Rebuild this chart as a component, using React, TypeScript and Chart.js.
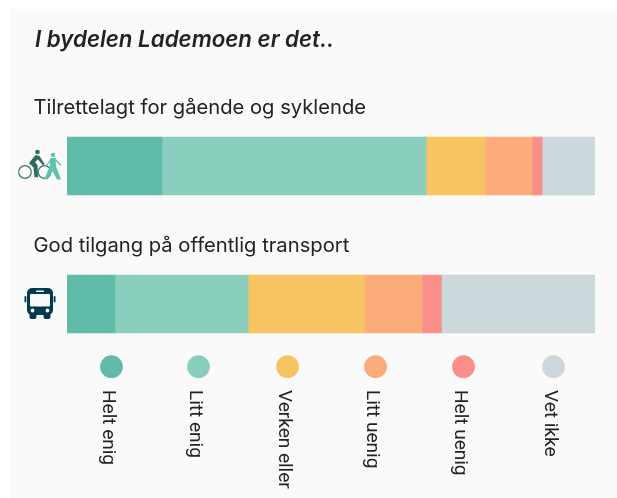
import { useEffect, useRef } from "react";
import Chart from "chart.js/auto";

const title = "I bydelen Lademoen er det..";
const categories = ["Tilrettelagt for gående og syklende", "God tilgang på offentlig transport"];
const seriesNames = ["Helt enig", "Litt enig", "Verken eller", "Litt uenig", "Helt uenig", "Vet ikke"];
const heltEnig = [18, 9.1];
const littEnig = [50, 25.2];
const verkenEller = [11.2, 22];
const littUenig = [8.9, 11];
const heltUenig = [1.9, 3.6];
const vetIkke = [10, 29.1];
const colors = ["#60BCA9", "#8ACEBE", "#F8C461", "#FCAB7B", "#F98E8A", "#CDD8DD"];
const legendX = [111.5, 198.5, 287.5, 375.5, 463.5, 553.5];

const seriesValues = [heltEnig, littEnig, verkenEller, littUenig, heltUenig, vetIkke];
const headingFont = "Inter, sans-serif";
const legendFont = "Roboto, sans-serif";

function drawCyclePair(ctx: CanvasRenderingContext2D, cy: number) {
  const y = cy - 166;
  ctx.save();
  ctx.translate(0, y);
  ctx.lineCap = "round";
  ctx.lineJoin = "round";
  ctx.strokeStyle = "#3A7569";
  ctx.fillStyle = "#2F6A5E";
  ctx.lineWidth = 1.2;
  ctx.beginPath();
  ctx.arc(25, 172, 6.3, 0, Math.PI * 2);
  ctx.moveTo(50.5, 172);
  ctx.arc(44.5, 172, 6.3, 0, Math.PI * 2);
  ctx.stroke();
  ctx.beginPath();
  ctx.arc(37.5, 152, 2.3, 0, Math.PI * 2);
  ctx.fill();
  ctx.beginPath();
  ctx.moveTo(35.5, 155);
  ctx.lineTo(29, 163);
  ctx.lineTo(33.5, 167.5);
  ctx.lineTo(34.5, 177);
  ctx.lineTo(38, 177.5);
  ctx.lineTo(37.5, 165);
  ctx.lineTo(35, 162);
  ctx.lineTo(38, 159.5);
  ctx.lineTo(43, 165.5);
  ctx.lineTo(44.5, 164);
  ctx.lineTo(39.5, 156);
  ctx.closePath();
  ctx.fill();
  ctx.fillStyle = "#5FC0AC";
  ctx.strokeStyle = "#5FC0AC";
  ctx.beginPath();
  ctx.arc(53, 155, 2.2, 0, Math.PI * 2);
  ctx.fill();
  ctx.beginPath();
  ctx.moveTo(50.5, 158);
  ctx.lineTo(55.5, 158);
  ctx.lineTo(56, 166);
  ctx.lineTo(61, 179.5);
  ctx.lineTo(57, 179.5);
  ctx.lineTo(52.5, 171);
  ctx.lineTo(47.5, 179.5);
  ctx.lineTo(44.5, 178.5);
  ctx.lineTo(49.5, 167);
  ctx.closePath();
  ctx.fill();
  ctx.lineWidth = 1.3;
  ctx.beginPath();
  ctx.moveTo(55, 159);
  ctx.lineTo(60.5, 165);
  ctx.moveTo(51, 159);
  ctx.lineTo(47, 165);
  ctx.stroke();
  ctx.restore();
}

function drawBus(ctx: CanvasRenderingContext2D, cy: number) {
  const y = cy - 304;
  ctx.save();
  ctx.translate(0, y);
  ctx.fillStyle = "#003B4D";
  ctx.beginPath();
  ctx.roundRect(27, 288, 26, 27, 5);
  ctx.fill();
  ctx.beginPath();
  ctx.roundRect(29.5, 312, 7, 7, 2);
  ctx.fill();
  ctx.beginPath();
  ctx.roundRect(43.5, 312, 7, 7, 2);
  ctx.fill();
  ctx.beginPath();
  ctx.roundRect(24.5, 296, 1.8, 6.5, 0.9);
  ctx.fill();
  ctx.beginPath();
  ctx.roundRect(53.7, 296, 1.8, 6.5, 0.9);
  ctx.fill();
  ctx.fillStyle = "#FAFAFA";
  ctx.beginPath();
  ctx.roundRect(30, 294, 20, 12.5, 1);
  ctx.fill();
  ctx.beginPath();
  ctx.roundRect(36, 290.5, 8, 1.6, 0.7);
  ctx.fill();
  ctx.beginPath();
  ctx.arc(32.5, 310.5, 1.9, 0, Math.PI * 2);
  ctx.fill();
  ctx.beginPath();
  ctx.arc(47.5, 310.5, 1.9, 0, Math.PI * 2);
  ctx.fill();
  ctx.restore();
}

const overlay = {
  id: "overlay",
  beforeDraw(chart: Chart) {
    const ctx = chart.ctx;
    ctx.save();
    ctx.fillStyle = "#FAFAFA";
    ctx.fillRect(9, 9, 608, 489);
    ctx.restore();
  },
  afterDraw(chart: Chart) {
    const ctx = chart.ctx;
    const yScale = chart.scales.y;
    ctx.save();
    ctx.textBaseline = "alphabetic";
    ctx.textAlign = "left";
    ctx.fillStyle = "#222222";
    ctx.font = `italic 600 22.3px ${headingFont}`;
    ctx.fillText(title, 35, 47);
    ctx.font = `400 20.2px ${headingFont}`;
    categories.forEach((c, i) => {
      ctx.fillText(c, 33.5, yScale.getPixelForValue(i) - 52);
    });
    drawCyclePair(ctx, yScale.getPixelForValue(0));
    drawBus(ctx, yScale.getPixelForValue(1));
    seriesNames.forEach((name, i) => {
      ctx.fillStyle = colors[i];
      ctx.beginPath();
      ctx.arc(legendX[i], 366.7, 11.4, 0, Math.PI * 2);
      ctx.fill();
      ctx.save();
      ctx.translate(legendX[i], 390);
      ctx.rotate(Math.PI / 2);
      ctx.fillStyle = "#222222";
      ctx.font = `400 19px ${legendFont}`;
      ctx.textAlign = "left";
      ctx.textBaseline = "alphabetic";
      ctx.fillText(name, 0, 8.5);
      ctx.restore();
    });
    ctx.restore();
  },
};

export default function App() {
  const ref = useRef<HTMLCanvasElement>(null);
  useEffect(() => {
    const chart = new Chart(ref.current!, {
      type: "bar",
      data: {
        labels: categories,
        datasets: seriesNames.map((name, i) => ({
          label: name,
          data: seriesValues[i],
          backgroundColor: colors[i],
          borderWidth: 0,
          barThickness: 58,
          stack: "s",
        })),
      },
      options: {
        indexAxis: "y",
        animation: false,
        responsive: false,
        layout: { padding: { left: 67, right: 22, top: 97, bottom: 125 } },
        plugins: { legend: { display: false }, title: { display: false }, tooltip: { enabled: false } },
        scales: {
          x: { stacked: true, min: 0, max: 100, display: false },
          y: { stacked: true, display: false },
        },
      },
      plugins: [overlay],
    });
    return () => chart.destroy();
  }, []);
  return (
    <div style={{ position: "fixed", left: 0, top: 0, width: 617, height: 498, background: "#fff" }}>
      <canvas ref={ref} width={617} height={498} style={{ display: "block" }} />
    </div>
  );
}
